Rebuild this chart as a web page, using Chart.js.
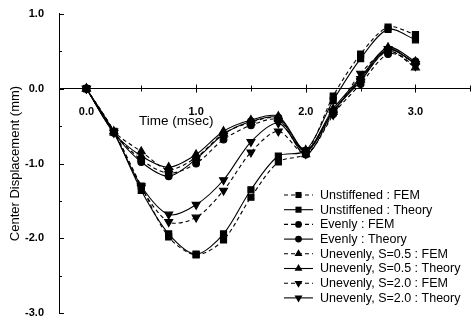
<!DOCTYPE html>
<html>
<head>
<meta charset="utf-8">
<script src="https://cdn.jsdelivr.net/npm/chart.js@4.4.0/dist/chart.umd.min.js"></script>
<style>
  html, body { margin: 0; padding: 0; background: #fff; }
  #wrap { width: 476px; height: 327px; }
</style>
</head>
<body>
<div id="wrap"><canvas id="chart" width="476" height="327"></canvas></div>
<script>
// time axis (msec) and center displacement (mm)
const times = [0, 0.25, 0.5, 0.75, 1.0, 1.25, 1.5, 1.75, 2.0, 2.25, 2.5, 2.75, 3.0];

const unstFem     = [0, -0.57, -1.30, -1.98, -2.22, -2.02, -1.45, -0.98, -0.86, -0.10, 0.46, 0.82, 0.72];
const unstTheory  = [0, -0.58, -1.36, -1.94, -2.21, -1.94, -1.35, -0.90, -0.83, -0.16, 0.40, 0.79, 0.65];
const evenFem     = [0, -0.58, -0.95, -1.13, -1.00, -0.68, -0.49, -0.42, -0.88, -0.34, 0.06, 0.46, 0.36];
const evenTheory  = [0, -0.59, -0.98, -1.17, -0.94, -0.61, -0.44, -0.39, -0.83, -0.30, 0.10, 0.52, 0.34];
const s05Fem      = [0, -0.57, -0.84, -1.08, -0.92, -0.60, -0.45, -0.40, -0.88, -0.31, 0.12, 0.50, 0.28];
const s05Theory   = [0, -0.59, -0.90, -1.05, -0.88, -0.57, -0.42, -0.37, -0.82, -0.27, 0.15, 0.55, 0.36];
const s2Fem       = [0, -0.57, -1.32, -1.78, -1.72, -1.36, -0.85, -0.57, -0.87, -0.35, 0.20, 0.50, 0.30];
const s2Theory    = [0, -0.59, -1.30, -1.68, -1.55, -1.22, -0.71, -0.46, -0.84, -0.30, 0.13, 0.53, 0.33];

const seriesLabels = [
  'Unstiffened : FEM', 'Unstiffened : Theory',
  'Evenly : FEM', 'Evenly : Theory',
  'Unevenly, S=0.5 : FEM', 'Unevenly, S=0.5 : Theory',
  'Unevenly, S=2.0 : FEM', 'Unevenly, S=2.0 : Theory'
];
const seriesValues = [unstFem, unstTheory, evenFem, evenTheory, s05Fem, s05Theory, s2Fem, s2Theory];

const xTicks = [0, 1, 2, 3];
const yTicks = [-3, -2, -1, 0, 1];

const FONT = '"Liberation Sans", Arial, sans-serif';

// marker shape per series: square, circle, triangle up, triangle down
const markers = [
  { style: 'rect', r: 4.3, rot: 0 }, { style: 'rect', r: 4.3, rot: 0 },
  { style: 'circle', r: 3.4, rot: 0 }, { style: 'circle', r: 3.4, rot: 0 },
  { style: 'triangle', r: 4.6, rot: 0 }, { style: 'triangle', r: 4.6, rot: 0 },
  { style: 'triangle', r: 4.6, rot: 180 }, { style: 'triangle', r: 4.6, rot: 180 }
];

const datasets = seriesValues.map((vals, i) => {
  const isFem = i % 2 === 0;
  return {
    label: seriesLabels[i],
    data: times.map((t, k) => ({ x: t, y: vals[k] })),
    borderColor: '#000',
    backgroundColor: '#000',
    pointBackgroundColor: '#000',
    pointBorderColor: '#000',
    borderWidth: 1.1,
    borderDash: isFem ? [4, 3] : [],
    pointStyle: markers[i].style,
    pointRadius: markers[i].r,
    pointRotation: markers[i].rot,
    pointHoverRadius: markers[i].r,
    tension: 0.3
  };
});

function drawMarker(ctx, m, x, y) {
  ctx.save();
  ctx.fillStyle = '#000';
  ctx.beginPath();
  if (m.style === 'rect') {
    const s = Math.SQRT1_2 * m.r;
    ctx.rect(x - s, y - s, 2 * s, 2 * s);
  } else if (m.style === 'circle') {
    ctx.arc(x, y, m.r, 0, Math.PI * 2);
  } else {
    let a = m.rot * Math.PI / 180;
    ctx.moveTo(x + Math.sin(a) * m.r, y - Math.cos(a) * m.r);
    a += 2 * Math.PI / 3;
    ctx.lineTo(x + Math.sin(a) * m.r, y - Math.cos(a) * m.r);
    a += 2 * Math.PI / 3;
    ctx.lineTo(x + Math.sin(a) * m.r, y - Math.cos(a) * m.r);
    ctx.closePath();
  }
  ctx.fill();
  ctx.restore();
}

// tick marks, x title and the legend box
const extras = {
  id: 'extras',
  afterDraw(chart) {
    const ctx = chart.ctx;
    const xs = chart.scales.x, ys = chart.scales.y;
    const left = chart.chartArea.left;
    const y0 = ys.getPixelForValue(0);
    ctx.save();
    ctx.strokeStyle = '#000';
    ctx.lineWidth = 1;
    ctx.setLineDash([]);
    ctx.beginPath();
    for (let v = -3; v <= 1.001; v += 0.5) {
      const py = Math.round(ys.getPixelForValue(v)) + 0.5;
      const len = Number.isInteger(v) ? 5 : 3;
      ctx.moveTo(left, py);
      ctx.lineTo(left + len, py);
    }
    for (let v = 0; v <= 3.501; v += 0.5) {
      const px = Math.round(xs.getPixelForValue(v)) + 0.5;
      const len = Number.isInteger(v) ? 4 : 3;
      ctx.moveTo(px, y0 - len);
      ctx.lineTo(px, y0 + len);
    }
    ctx.stroke();

    ctx.fillStyle = '#000';
    ctx.font = '13.5px ' + FONT;
    ctx.textAlign = 'center';
    ctx.textBaseline = 'middle';
    ctx.fillText('Time (msec)', xs.getPixelForValue(0.82), y0 + 33);

    // legend
    const lx0 = 284, lx1 = 313, tx = 320;
    ctx.font = '12.5px ' + FONT;
    ctx.textAlign = 'left';
    ctx.lineWidth = 1.1;
    chart.data.datasets.forEach((ds, i) => {
      const ly = 195 + i * 14.7;
      ctx.beginPath();
      ctx.setLineDash(ds.borderDash);
      ctx.moveTo(lx0, ly);
      ctx.lineTo(lx1, ly);
      ctx.stroke();
      ctx.setLineDash([]);
      drawMarker(ctx, markers[i], (lx0 + lx1) / 2, ly);
      ctx.fillText(ds.label, tx, ly + 0.5);
    });
    ctx.restore();
  }
};

new Chart(document.getElementById('chart').getContext('2d'), {
  type: 'line',
  data: { datasets },
  options: {
    responsive: false,
    animation: false,
    layout: { padding: { top: 12, right: 4, bottom: 7, left: 0 } },
    plugins: { legend: { display: false }, tooltip: { enabled: false } },
    scales: {
      x: {
        type: 'linear',
        position: { y: 0 },
        min: -0.25,
        max: 3.5,
        afterBuildTicks: s => { s.ticks = xTicks.map(v => ({ value: v })); },
        ticks: {
          color: '#000',
          padding: 9,
          font: { family: FONT, size: 11, weight: 'bold' },
          callback: v => Number(v).toFixed(1)
        },
        grid: { display: false },
        border: { display: true, color: '#000', width: 1 }
      },
      y: {
        min: -3,
        max: 1,
        afterBuildTicks: s => { s.ticks = yTicks.map(v => ({ value: v })); },
        afterFit: s => { s.width = 59; },
        ticks: {
          color: '#000',
          padding: 7,
          font: { family: FONT, size: 11, weight: 'bold' },
          callback: v => Number(v).toFixed(1)
        },
        grid: { display: false },
        border: { display: true, color: '#000', width: 1 },
        title: {
          display: true,
          text: 'Center Displacement (mm)',
          color: '#000',
          font: { family: FONT, size: 13 },
          padding: { top: 8, bottom: 0 }
        }
      }
    }
  },
  plugins: [extras]
});
</script>
</body>
</html>
